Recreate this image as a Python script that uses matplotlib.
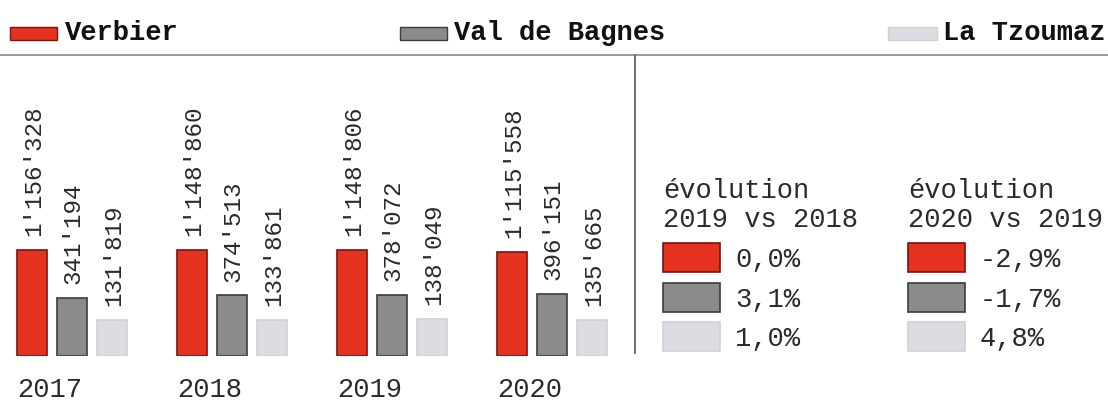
import numpy as np
import matplotlib.pyplot as plt
from matplotlib.patches import Rectangle
from matplotlib.lines import Line2D

years = ["2017", "2018", "2019", "2020"]
stations = ["Verbier", "Val de Bagnes", "La Tzoumaz"]
verbier = [1156328, 1148860, 1148806, 1115558]
val_de_bagnes = [341194, 374513, 378072, 396151]
la_tzoumaz = [131819, 133861, 138049, 135665]
evol_titles = ["évolution\n2019 vs 2018", "évolution\n2020 vs 2019"]
evol_2019_vs_2018 = [0.0, 3.1, 1.0]
evol_2020_vs_2019 = [-2.9, -1.7, 4.8]

colors = ["#e5321f", "#8b8b8b", "#dcdde3"]
edges = ["#7a1212", "#3c3c3c", "#d0d0d6"]
FONT = "Liberation Mono"
TXT = "#2a2a2a"

W, H = 1108, 403
fig = plt.figure(figsize=(W / 100, H / 100), dpi=100)


def fx(px):
    return px / W


def fy(py):
    return 1 - py / H


# bar panel
ax = fig.add_axes([0, fy(356), fx(635), fy(55) - fy(356)])
ax.set_yscale("function", functions=(np.sqrt, np.square))
ax.set_ylim(0, 9.26e6)
ax.set_xlim(-0.8, 15.075)
ax.axis("off")

series = [verbier, val_de_bagnes, la_tzoumaz]
width = 0.75
for j, vals in enumerate(series):
    xs = np.arange(len(years)) * 4.0 + j
    ax.bar(xs, vals, width=width, color=colors[j], edgecolor=edges[j],
           linewidth=1.2)
    for x, v in zip(xs, vals):
        ax.annotate(f"{v:,}".replace(",", "'"), xy=(x, v), xytext=(1, 10),
                    textcoords="offset points", rotation=90,
                    ha="center", va="bottom", family=FONT, fontsize=17.5,
                    color=TXT)

for i, yr in enumerate(years):
    ax.annotate(yr, xy=(i * 4.0 - width / 2, 0), xytext=(0, -29.5),
                textcoords="offset points", ha="left", va="baseline",
                family=FONT, fontsize=19.5, color=TXT)

# legend on top
leg_sw = [(10, 57), (400, 447), (888, 937)]
leg_tx = [65, 454, 943]
for j, name in enumerate(stations):
    x0, x1 = leg_sw[j]
    fig.add_artist(Rectangle((fx(x0), fy(40)), fx(x1 - x0), fy(27) - fy(40),
                             facecolor=colors[j], edgecolor=edges[j], lw=1,
                             transform=fig.transFigure))
    fig.text(fx(leg_tx[j]), fy(33), name, ha="left", va="center",
             family=FONT, fontsize=19.5, fontweight="bold", color="#111111")

# separator lines
fig.add_artist(Line2D([0, 1], [fy(55), fy(55)], color="#9a9a9a", lw=1.4,
                      transform=fig.transFigure))
fig.add_artist(Line2D([fx(635), fx(635)], [fy(55), fy(353)], color="#6f6f6f",
                      lw=1.4, transform=fig.transFigure))

# evolution panel
col_x = [663, 908]
for c, pcts in enumerate([evol_2019_vs_2018, evol_2020_vs_2019]):
    x0 = col_x[c]
    fig.text(fx(x0), fy(227), evol_titles[c], ha="left", va="baseline",
             family=FONT, fontsize=19.5, color=TXT, linespacing=1.15)
    for j, p in enumerate(pcts):
        top = 243 + j * 39.5
        fig.add_artist(Rectangle((fx(x0), fy(top + 29)), fx(57),
                                 fy(top) - fy(top + 29),
                                 facecolor=colors[j], edgecolor=edges[j],
                                 lw=1.2, transform=fig.transFigure))
        fig.text(fx(x0 + 72), fy(top + 24), f"{p:.1f}%".replace(".", ","),
                 ha="left", va="baseline", family=FONT, fontsize=19.5,
                 color=TXT)

fig.savefig("out.png", dpi=100)
